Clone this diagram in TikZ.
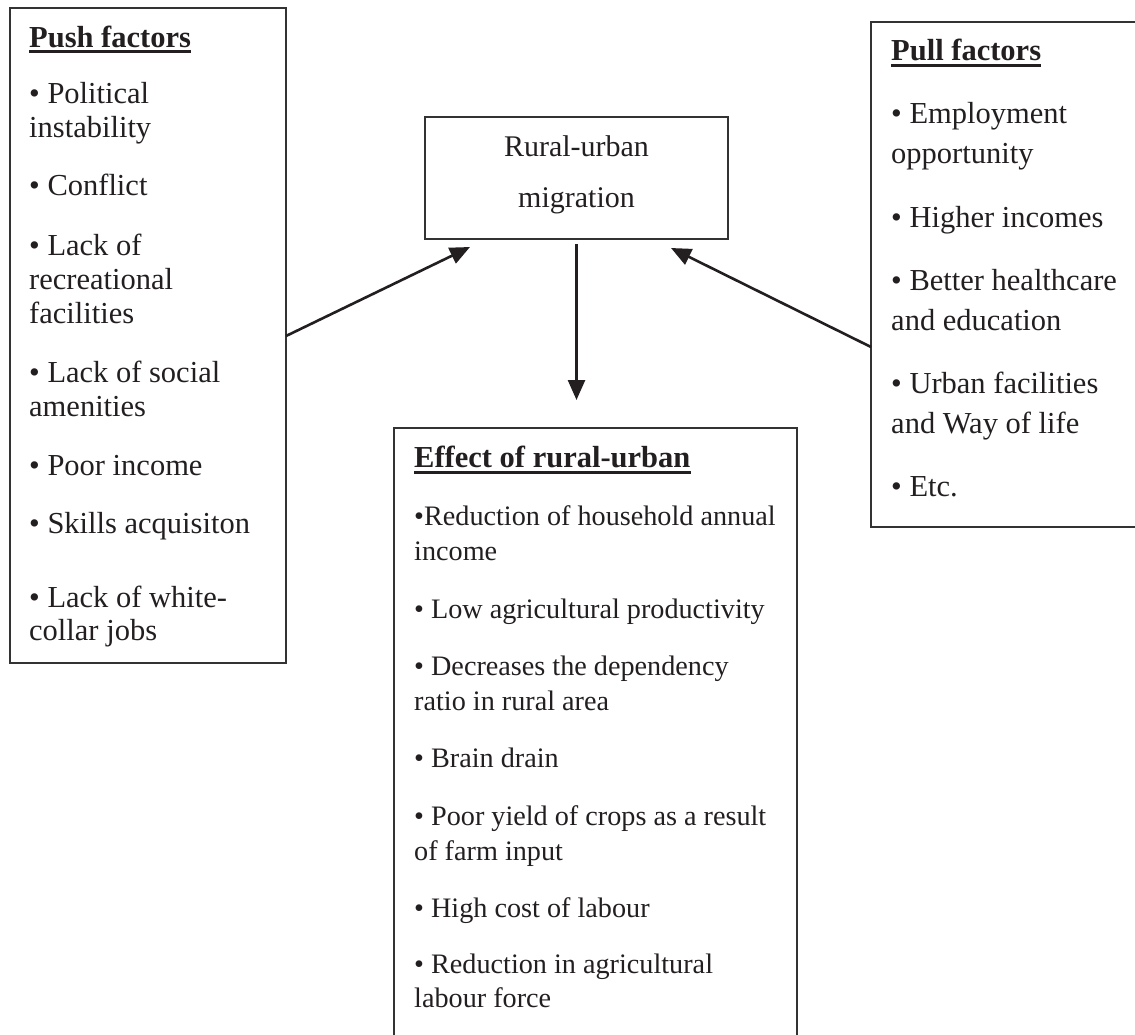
\documentclass[tikz,border=0pt]{standalone}
\usepackage{fontspec}
\setmainfont{Liberation Serif}
\usetikzlibrary{arrows.meta}
\definecolor{ink}{HTML}{231F20}
\definecolor{edge}{HTML}{333333}
\begin{document}
\begin{tikzpicture}[x=1pt,y=-1pt,
  box/.style={draw=edge, line width=1.8pt, rectangle, inner sep=0pt, outer sep=0pt, anchor=north west},
  big/.style={font=\fontsize{30.5}{34}\selectfont, text=ink, inner sep=0pt, anchor=base west},
  small/.style={font=\fontsize{28.2}{34}\selectfont, text=ink, inner sep=0pt, anchor=base west},
  head/.style={font=\fontsize{30.5}{34}\selectfont\bfseries, text=ink, inner sep=0pt, anchor=base west},
  mid/.style={font=\fontsize{30}{34}\selectfont, text=ink, inner sep=0pt, anchor=base},
  ul/.style={line width=3pt, draw=ink},
  arr/.style={line width=2.6pt, draw=ink, -{Triangle[length=20pt,width=17pt]}},
]
\useasboundingbox (0,0) rectangle (1135,1034);
\clip (0,0) rectangle (1135,1034);

% boxes
\node[box, minimum width=276pt, minimum height=655pt] (push) at (10,8) {};
\node[box, minimum width=303pt, minimum height=122pt] (rural) at (425,117) {};
\node[box, minimum width=268pt, minimum height=505pt] (pull) at (871,22) {};
\node[box, minimum width=403pt, minimum height=640pt] (effect) at (394,428) {};

% push factors
\node[head] (pushT) at (29,47) {Push factors};
\draw[ul] (pushT.base west |- 0,51.5) -- (pushT.base east |- 0,51.5);
\node[big] (p1) at (29,103) {• Political};
\node[big] (p2) at (29,137) {instability};
\node[big] (p3) at (29,195) {• Conflict};
\node[big] (p4) at (29,255) {• Lack of};
\node[big] (p5) at (29,289) {recreational};
\node[big] (p6) at (29,323) {facilities};
\node[big] (p7) at (29,382) {• Lack of social};
\node[big] (p8) at (29,416) {amenities};
\node[big] (p9) at (29,475) {• Poor income};
\node[big] (p10) at (29,533) {• Skills acquisiton};
\node[big] (p11) at (29,607) {• Lack of white-};
\node[big] (p12) at (29,640) {collar jobs};

% rural-urban migration
\node[mid] (r1) at (576.5,156) {Rural-urban};
\node[mid] (r2) at (576.5,207) {migration};

% pull factors
\node[head] (pullT) at (891,60) {Pull factors};
\draw[ul] (pullT.base west |- 0,65) -- (pullT.base east |- 0,65);
\node[big] (q1) at (891,123) {• Employment};
\node[big] (q2) at (891,163) {opportunity};
\node[big] (q3) at (891,227) {• Higher incomes};
\node[big] (q4) at (891,290) {• Better healthcare};
\node[big] (q5) at (891,330) {and education};
\node[big] (q6) at (891,393) {• Urban facilities};
\node[big] (q7) at (891,433) {and Way of life};
\node[big] (q8) at (891,496) {• Etc.};

% effects
\node[head] (effT) at (414,467) {Effect of rural-urban};
\draw[ul] (effT.base west |- 0,472) -- (effT.base east |- 0,472);
\node[small] (e1) at (414,525) {•Reduction of household annual};
\node[small] (e2) at (414,560) {income};
\node[small] (e3) at (414,618) {• Low agricultural productivity};
\node[small] (e4) at (414,675) {• Decreases the dependency};
\node[small] (e5) at (414,710) {ratio in rural area};
\node[small] (e6) at (414,767) {• Brain drain};
\node[small] (e7) at (414,825) {• Poor yield of crops as a result};
\node[small] (e8) at (414,860) {of farm input};
\node[small] (e9) at (414,917) {• High cost of labour};
\node[small] (e10) at (414,973) {• Reduction in agricultural};
\node[small] (e11) at (414,1007) {labour force};

% connectors
\coordinate (pushOut) at (push.east |- 0,336);
\coordinate (pushIn) at (470,247);
\coordinate (downStart) at ([yshift=-5pt]rural.south);
\coordinate (downEnd) at (rural.south |- 0,400);
\coordinate (pullOut) at (pull.west |- 0,347);
\coordinate (pullIn) at (671,248);
\draw[arr] (pushOut) -- (pushIn);
\draw[arr] (downStart) -- (downEnd);
\draw[arr] (pullOut) -- (pullIn);
\end{tikzpicture}
\end{document}
